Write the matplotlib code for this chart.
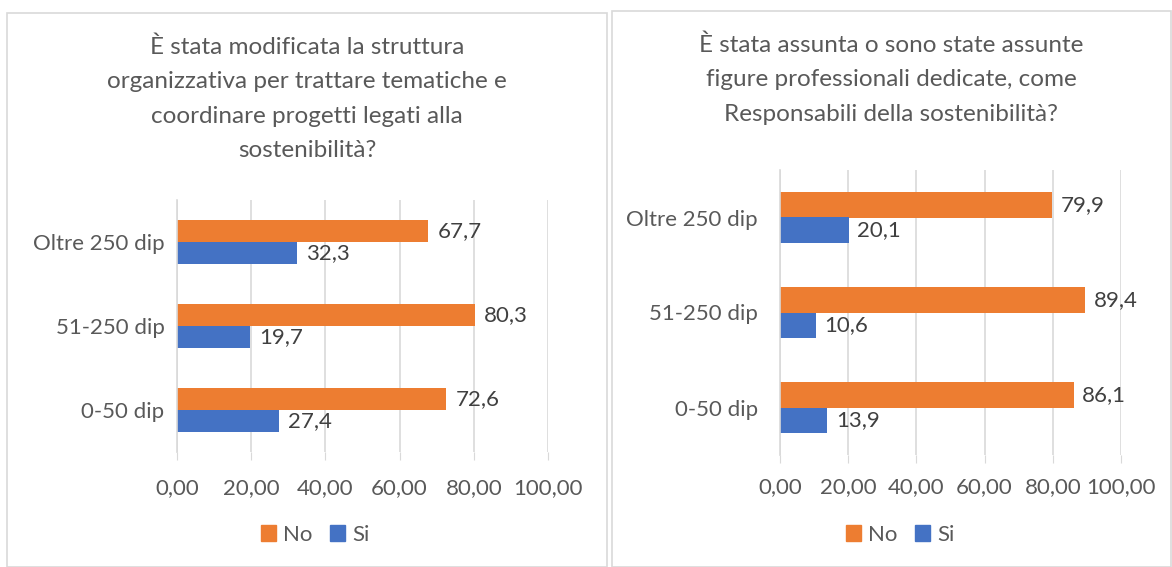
"""
two horizontal bar panels: No / Si by company size
"""

import matplotlib.pyplot as plt
from matplotlib.patches import Rectangle, Patch
from matplotlib.ticker import FuncFormatter

plt.rcParams['font.family'] = ['Lato', 'DejaVu Sans']

categories = ["0-50 dip", "51-250 dip", "Oltre 250 dip"]

title_left = ("È stata modificata la struttura\norganizzativa per trattare tematiche e\n"
              "coordinare progetti legati alla\nsostenibilità?")
no_left = [72.6, 80.3, 67.7]
si_left = [27.4, 19.7, 32.3]

title_right = ("È stata assunta o sono state assunte\nfigure professionali dedicate, come\n"
               "Responsabili della sostenibilità?")
no_right = [86.1, 89.4, 79.9]
si_right = [13.9, 10.6, 20.1]

xticks = [0, 20, 40, 60, 80, 100]

ORANGE = "#ED7D31"
BLUE = "#4472C4"
TXT = "#595959"
W, H = 1172, 567
FS = 16


def fig_rect(x0, y0, x1, y1):
    # pixel box (top-left origin) -> figure fraction
    return [x0 / W, 1 - y1 / H, (x1 - x0) / W, (y1 - y0) / H]


def drawPanel(fig, box, axbox, title, title_y, no, si, legend_xy, bar_h, ypad, xpad):
    fig.patches.append(Rectangle((box[0], box[1]), box[2], box[3],
                                 transform=fig.transFigure, fill=False,
                                 edgecolor="#D9D9D9", linewidth=1.2))
    ax = fig.add_axes(axbox)
    y = range(len(categories))
    b_no = ax.barh([i + bar_h / 2 for i in y], no, height=bar_h, color=ORANGE)
    b_si = ax.barh([i - bar_h / 2 for i in y], si, height=bar_h, color=BLUE)
    for bars, vals in ((b_no, no), (b_si, si)):
        for bar, v in zip(bars, vals):
            ax.text(v + 2.5, bar.get_y() + bar.get_height() / 2,
                    f"{v:.1f}".replace(".", ","), va="center", ha="left",
                    fontsize=FS, color="#404040")
    ax.set_xlim(0, 100)
    ax.set_ylim(-0.5, len(categories) - 0.5)
    ax.set_xticks(xticks)
    ax.xaxis.set_major_formatter(FuncFormatter(lambda v, p: f"{v:.2f}".replace(".", ",")))
    ax.set_yticks(list(y))
    ax.set_yticklabels(categories)
    ax.tick_params(axis="x", length=6, color="#D9D9D9", pad=xpad, labelsize=FS, labelcolor=TXT)
    ax.tick_params(axis="y", length=0, pad=ypad, labelsize=FS, labelcolor=TXT)
    ax.grid(axis="x", color="#D9D9D9", linewidth=1.2)
    ax.set_axisbelow(True)
    for s in ("top", "right", "bottom"):
        ax.spines[s].set_visible(False)
    ax.spines["left"].set_color("#D9D9D9")
    ax.spines["left"].set_linewidth(1.2)

    cx = box[0] + box[2] / 2
    fig.text(cx, title_y, title, ha="center", va="top", fontsize=17.5,
             color=TXT, linespacing=1.8)
    handles = [Patch(color=ORANGE, label="No"), Patch(color=BLUE, label="Si")]
    fig.legend(handles=handles, loc="center", bbox_to_anchor=legend_xy, ncol=2,
               frameon=False, fontsize=FS, labelcolor=TXT, handlelength=0.7,
               handleheight=0.7, handletextpad=0.3, columnspacing=0.8)
    return ax


fig = plt.figure(figsize=(W / 100, H / 100), dpi=100)

drawPanel(fig, fig_rect(7, 13, 607, 567), fig_rect(177, 200, 548, 452),
          title_left, 1 - 36 / H, no_left, si_left, (315 / W, 1 - 535 / H), 0.26, 9, 13)
drawPanel(fig, fig_rect(612, 11, 1171, 567), fig_rect(780, 170, 1121, 455),
          title_right, 1 - 34 / H, no_right, si_right, (900 / W, 1 - 535 / H), 0.27, 16, 10)

plt.savefig("out.png", dpi=100)
